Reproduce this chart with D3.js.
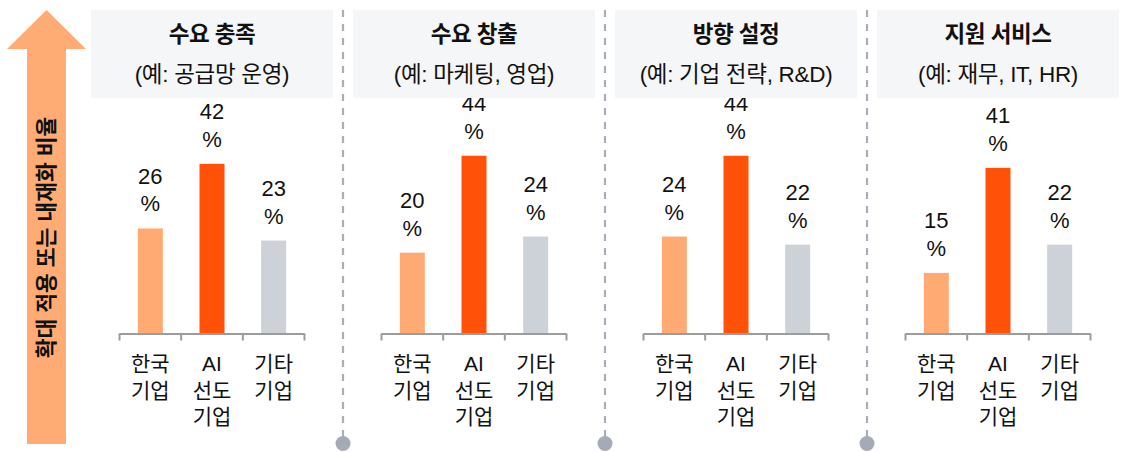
<!DOCTYPE html>
<html lang="ko">
<head>
<meta charset="utf-8">
<script src="https://cdn.jsdelivr.net/npm/d3@7"></script>
<style>
  html, body { margin: 0; padding: 0; background: #ffffff; }
  svg { display: block; }
  text { font-family: "Liberation Sans", "Noto Sans CJK KR", sans-serif; fill: #111; }
</style>
</head>
<body>
<svg id="chart" width="1121" height="452"></svg>
<script>
// Business areas (one panel each)
const areaTitles = ["수요 충족", "수요 창출", "방향 설정", "지원 서비스"];
const areaExamples = ["(예: 공급망 운영)", "(예: 마케팅, 영업)", "(예: 기업 전략, R&D)", "(예: 재무, IT, HR)"];

// Company groups within each panel (label lines)
const groups = ["한국 기업", "AI 선도 기업", "기타 기업"];
const groupLines = [["한국", "기업"], ["AI", "선도", "기업"], ["기타", "기업"]];

// Share of companies expanding or internalising AI, % per area
const koreaValues = [26, 20, 24, 15];
const leaderValues = [42, 44, 44, 41];
const otherValues = [23, 24, 22, 22];

const arrowLabel = "확대 적용 또는 내재화 비율";
const groupColors = ["#FFAA72", "#FF5208", "#CDD1D8"];

const svg = d3.select("#chart");

// Panel placement: 242px panels with 20px gutters
const panelX = d3.scaleBand().domain(d3.range(areaTitles.length)).range([91, 1119]).paddingInner(20 / 262).paddingOuter(0);
const baseline = 333.5;
const y = d3.scaleLinear().domain([0, 50]).range([baseline, baseline - 202]);

// Left arrow with vertical caption
const arrow = svg.append("g");
arrow.append("path")
  .attr("d", "M27,444 L27,49 L7,49 L46.5,10 L86,49 L66,49 L66,444 Z")
  .attr("fill", "#FFAB74");
arrow.append("text")
  .attr("transform", "translate(47,237.5) rotate(-90)")
  .attr("text-anchor", "middle")
  .attr("dominant-baseline", "central")
  .attr("font-size", 21.5)
  .attr("font-weight", 700)
  .text(arrowLabel);

// Dashed separators between panels
for (let i = 1; i < areaTitles.length; i++) {
  const sx = panelX(i) - 10;
  svg.append("line")
    .attr("x1", sx).attr("x2", sx)
    .attr("y1", 10).attr("y2", 440)
    .attr("stroke", "#A9AFB9").attr("stroke-width", 2.2)
    .attr("stroke-dasharray", "7,7");
  svg.append("circle")
    .attr("cx", sx).attr("cy", 443.5).attr("r", 7.5)
    .attr("fill", "#A5ABB6");
}

const seriesByGroup = [koreaValues, leaderValues, otherValues];

areaTitles.forEach((title, i) => {
  const g = svg.append("g");
  const px = panelX(i), pw = panelX.bandwidth();
  const cx = px + pw / 2;
  const axisL = cx - 92.5, axisR = cx + 92.5;
  const x = d3.scaleBand().domain(groups).range([axisL, axisR]);
  const barW = 25;

  const rows = groups.map((grp, k) => ({ grp, k, value: seriesByGroup[k][i] }));

  // Bars
  g.selectAll("rect.bar").data(rows).join("rect")
    .attr("class", "bar")
    .attr("x", d => x(d.grp) + x.bandwidth() / 2 - barW / 2)
    .attr("y", d => y(d.value))
    .attr("width", barW)
    .attr("height", d => y(0) - y(d.value))
    .attr("fill", d => groupColors[d.k]);

  // Value labels (number on one line, % below)
  const lab = g.selectAll("text.val").data(rows).join("text")
    .attr("class", "val")
    .attr("text-anchor", "middle")
    .attr("font-size", 22);
  lab.append("tspan")
    .attr("x", d => x(d.grp) + x.bandwidth() / 2)
    .attr("y", d => y(d.value) - 44.5)
    .text(d => d.value);
  lab.append("tspan")
    .attr("x", d => x(d.grp) + x.bandwidth() / 2)
    .attr("y", d => y(d.value) - 17)
    .text("%");

  // Category axis with boundary ticks
  const ticks = [axisL, ...groups.slice(1).map(gr => x(gr)), axisR];
  g.append("line")
    .attr("x1", axisL).attr("x2", axisR)
    .attr("y1", baseline + 0.5).attr("y2", baseline + 0.5)
    .attr("stroke", "#9C9C9C").attr("stroke-width", 2);
  g.selectAll("line.tick").data(ticks).join("line")
    .attr("class", "tick")
    .attr("x1", d => d).attr("x2", d => d)
    .attr("y1", baseline).attr("y2", baseline + 7)
    .attr("stroke", "#9C9C9C").attr("stroke-width", 2);

  // Category labels
  const cat = g.selectAll("text.cat").data(rows).join("text")
    .attr("class", "cat")
    .attr("text-anchor", "middle")
    .attr("font-size", 21);
  cat.selectAll("tspan").data(d => groupLines[d.k].map(t => ({ t, cx: x(d.grp) + x.bandwidth() / 2 })))
    .join("tspan")
    .attr("x", d => d.cx)
    .attr("y", (d, j) => 371 + j * 26.7)
    .text(d => d.t);

  // Header box drawn on top of labels
  g.append("rect")
    .attr("x", px).attr("y", 10)
    .attr("width", pw).attr("height", 88)
    .attr("fill", "#F5F6F8");
  g.append("text")
    .attr("x", cx).attr("y", 42)
    .attr("text-anchor", "middle")
    .attr("font-size", 22.5)
    .attr("font-weight", 700)
    .attr("letter-spacing", -0.5)
    .text(title);
  g.append("text")
    .attr("x", cx).attr("y", 82)
    .attr("text-anchor", "middle")
    .attr("font-size", 22.5)
    .attr("letter-spacing", -0.3)
    .text(areaExamples[i]);
});
</script>
</body>
</html>
